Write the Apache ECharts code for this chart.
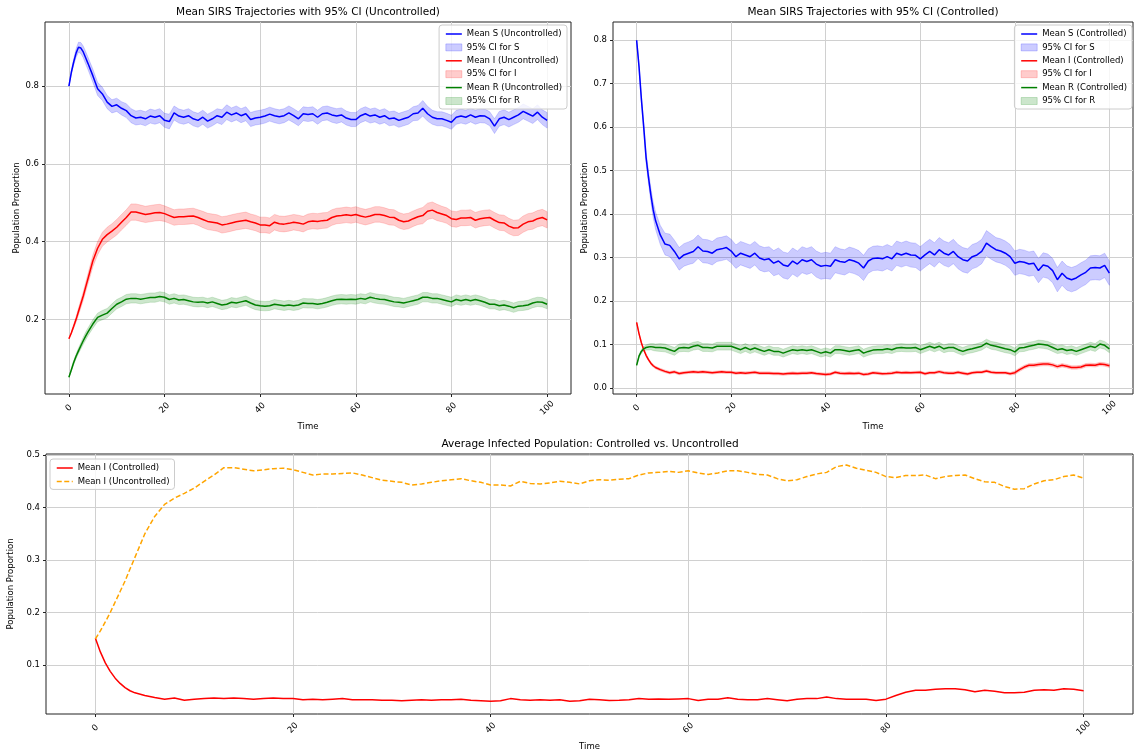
<!DOCTYPE html>
<html>
<head>
<meta charset="utf-8">
<script src="https://cdn.jsdelivr.net/npm/echarts@6/dist/echarts.min.js"></script>
<style>
html,body{margin:0;padding:0;background:#fff}
#chart{width:1134px;height:755px}
</style>
</head>
<body>
<div id="chart"></div>
<script>
// Time grid (finer steps over the fast initial transient)
const time = [0,0.5,1,1.5,2,2.5,3,3.5,4,
  5,6,7,8,9,10,11,12,13,14,15,16,17,18,19,20,21,22,23,24,25,26,27,28,29,30,
  31,32,33,34,35,36,37,38,39,40,41,42,43,44,45,46,47,48,49,50,51,52,53,54,55,
  56,57,58,59,60,61,62,63,64,65,66,67,68,69,70,71,72,73,74,75,76,77,78,79,80,
  81,82,83,84,85,86,87,88,89,90,91,92,93,94,95,96,97,98,99,100];

const xTicks = [0,20,40,60,80,100];
const yTicksUnc = [0.2,0.4,0.6,0.8];
const yTicksCon = [0,0.1,0.2,0.3,0.4,0.5,0.6,0.7,0.8];
const yTicksCmp = [0.1,0.2,0.3,0.4,0.5];

// Uncontrolled runs: mean trajectories and 95% CI half-widths
const meanS_unc = [0.800,0.835,0.862,0.885,0.900,0.898,0.888,0.873,0.858,
  0.827,0.793,0.780,0.759,0.748,0.752,0.743,0.737,0.724,0.718,
  0.720,0.716,0.723,0.720,0.724,0.712,0.709,0.731,0.723,0.720,
  0.724,0.716,0.712,0.720,0.710,0.716,0.724,0.720,0.733,0.726,
  0.731,0.724,0.729,0.714,0.718,0.720,0.723,0.728,0.724,0.721,
  0.724,0.731,0.724,0.716,0.729,0.727,0.729,0.720,0.729,0.731,
  0.726,0.723,0.726,0.718,0.714,0.714,0.724,0.729,0.723,0.726,
  0.720,0.724,0.716,0.718,0.712,0.716,0.720,0.729,0.731,0.743,
  0.729,0.720,0.716,0.716,0.712,0.707,0.720,0.723,0.720,0.726,
  0.720,0.724,0.723,0.716,0.697,0.716,0.720,0.714,0.720,0.726,
  0.735,0.729,0.723,0.733,0.720,0.712];
const halfS_unc = [0,0.005,0.008,0.011,0.013,0.014,0.015,0.016,0.016,
  0.017,0.017,0.017,0.017,0.017,0.017,0.017,0.018,0.018,0.018,
  0.018,0.018,0.018,0.018,0.018,0.018,0.019,0.018,0.018,0.018,
  0.018,0.018,0.018,0.018,0.018,0.018,0.018,0.019,0.019,0.018,
  0.018,0.018,0.018,0.018,0.018,0.018,0.018,0.018,0.018,0.018,
  0.018,0.018,0.018,0.018,0.018,0.018,0.018,0.018,0.018,0.018,
  0.019,0.019,0.018,0.018,0.018,0.018,0.018,0.018,0.018,0.018,
  0.018,0.018,0.018,0.018,0.018,0.018,0.018,0.018,0.019,0.020,
  0.019,0.018,0.018,0.018,0.018,0.018,0.018,0.018,0.018,0.018,
  0.018,0.018,0.018,0.018,0.019,0.019,0.019,0.019,0.019,0.019,
  0.019,0.019,0.019,0.019,0.019,0.020];

const meanI_unc = [0.150,0.165,0.182,0.200,0.220,0.240,0.260,0.283,0.305,
  0.350,0.383,0.406,0.418,0.427,0.437,0.450,0.462,0.476,0.476,
  0.473,0.470,0.472,0.474,0.475,0.472,0.467,0.462,0.464,0.464,
  0.465,0.466,0.462,0.457,0.452,0.450,0.448,0.443,0.445,0.448,
  0.451,0.453,0.455,0.451,0.448,0.443,0.443,0.441,0.450,0.446,
  0.445,0.447,0.450,0.448,0.445,0.451,0.453,0.452,0.454,0.455,
  0.462,0.466,0.467,0.469,0.467,0.470,0.466,0.463,0.466,0.470,
  0.470,0.467,0.463,0.462,0.455,0.451,0.453,0.459,0.464,0.467,
  0.478,0.481,0.475,0.471,0.467,0.459,0.457,0.461,0.461,0.462,
  0.455,0.459,0.461,0.462,0.455,0.449,0.448,0.440,0.435,0.436,
  0.445,0.451,0.453,0.459,0.462,0.456];
const halfI_unc = [0,0.003,0.005,0.007,0.009,0.010,0.011,0.012,0.013,
  0.015,0.017,0.018,0.019,0.019,0.020,0.020,0.020,0.021,0.021,
  0.021,0.021,0.021,0.021,0.021,0.020,0.020,0.020,0.020,0.020,
  0.020,0.020,0.020,0.021,0.021,0.021,0.021,0.021,0.021,0.021,
  0.021,0.021,0.021,0.020,0.020,0.020,0.020,0.020,0.020,0.020,
  0.020,0.020,0.020,0.020,0.020,0.020,0.020,0.020,0.020,0.020,
  0.020,0.020,0.020,0.020,0.020,0.020,0.020,0.020,0.020,0.020,
  0.020,0.020,0.020,0.020,0.020,0.020,0.020,0.020,0.020,0.021,
  0.021,0.021,0.021,0.020,0.020,0.020,0.020,0.020,0.020,0.020,
  0.020,0.020,0.020,0.020,0.020,0.020,0.020,0.020,0.020,0.020,
  0.021,0.021,0.021,0.021,0.021,0.021];

const meanR_unc = [0.051,0.070,0.089,0.105,0.119,0.132,0.145,0.157,0.168,
  0.188,0.205,0.211,0.216,0.228,0.239,0.245,0.252,0.254,0.254,
  0.252,0.254,0.256,0.256,0.259,0.257,0.251,0.254,0.250,0.251,
  0.248,0.245,0.244,0.245,0.242,0.245,0.241,0.237,0.239,0.244,
  0.242,0.245,0.248,0.242,0.237,0.235,0.234,0.235,0.239,0.237,
  0.235,0.237,0.235,0.237,0.242,0.241,0.241,0.239,0.241,0.244,
  0.248,0.251,0.252,0.251,0.252,0.251,0.254,0.252,0.257,0.254,
  0.252,0.251,0.248,0.245,0.244,0.242,0.245,0.248,0.251,0.257,
  0.257,0.254,0.254,0.251,0.248,0.245,0.251,0.248,0.251,0.248,
  0.251,0.248,0.244,0.239,0.239,0.235,0.237,0.234,0.230,0.234,
  0.235,0.237,0.242,0.245,0.244,0.239];
const halfR_unc = [0,0.003,0.005,0.006,0.007,0.008,0.009,0.010,0.010,
  0.011,0.011,0.012,0.012,0.012,0.012,0.012,0.012,0.012,0.012,
  0.012,0.012,0.012,0.012,0.012,0.012,0.012,0.012,0.012,0.012,
  0.012,0.012,0.012,0.012,0.012,0.012,0.012,0.012,0.012,0.012,
  0.012,0.012,0.012,0.012,0.012,0.012,0.012,0.012,0.012,0.012,
  0.012,0.012,0.012,0.012,0.012,0.012,0.012,0.012,0.012,0.012,
  0.012,0.012,0.012,0.012,0.012,0.012,0.012,0.012,0.012,0.012,
  0.012,0.012,0.012,0.012,0.012,0.012,0.012,0.012,0.012,0.012,
  0.012,0.012,0.012,0.012,0.012,0.012,0.012,0.012,0.012,0.012,
  0.012,0.012,0.012,0.012,0.012,0.012,0.012,0.012,0.012,0.012,
  0.012,0.012,0.012,0.012,0.012,0.012];

// Controlled runs
const meanS_con = [0.800,0.740,0.665,0.600,0.530,0.485,0.445,0.410,0.385,
  0.352,0.331,0.328,0.314,0.297,0.306,0.310,0.314,0.325,0.315,
  0.314,0.310,0.318,0.320,0.323,0.315,0.302,0.310,0.306,0.302,
  0.310,0.299,0.295,0.297,0.287,0.292,0.283,0.280,0.292,0.285,
  0.295,0.291,0.295,0.285,0.280,0.282,0.280,0.295,0.291,0.289,
  0.295,0.292,0.287,0.276,0.292,0.298,0.299,0.297,0.302,0.297,
  0.310,0.306,0.310,0.306,0.305,0.297,0.306,0.314,0.306,0.318,
  0.310,0.306,0.314,0.302,0.295,0.292,0.302,0.306,0.314,0.333,
  0.325,0.318,0.315,0.310,0.302,0.287,0.291,0.289,0.285,0.287,
  0.270,0.283,0.280,0.270,0.249,0.264,0.253,0.249,0.253,0.260,
  0.266,0.276,0.277,0.276,0.282,0.264];
const halfS_con = [0,0.004,0.007,0.010,0.012,0.014,0.016,0.018,0.020,
  0.022,0.025,0.026,0.026,0.026,0.026,0.026,0.027,0.027,0.027,
  0.027,0.027,0.027,0.027,0.027,0.027,0.027,0.027,0.027,0.027,
  0.027,0.028,0.028,0.028,0.029,0.030,0.030,0.030,0.030,0.030,
  0.030,0.030,0.030,0.030,0.030,0.030,0.030,0.030,0.029,0.029,
  0.029,0.029,0.029,0.029,0.028,0.028,0.028,0.028,0.028,0.028,
  0.028,0.028,0.028,0.028,0.028,0.028,0.028,0.028,0.028,0.028,
  0.028,0.028,0.028,0.028,0.028,0.028,0.028,0.028,0.028,0.029,
  0.029,0.028,0.028,0.028,0.028,0.028,0.028,0.028,0.028,0.028,
  0.028,0.028,0.028,0.028,0.028,0.028,0.028,0.028,0.028,0.028,
  0.028,0.028,0.028,0.028,0.028,0.028];

const meanI_con = [0.151,0.125,0.104,0.088,0.075,0.065,0.057,0.051,0.047,
  0.042,0.038,0.035,0.037,0.033,0.035,0.036,0.037,0.036,0.037,
  0.036,0.035,0.036,0.037,0.036,0.036,0.034,0.035,0.034,0.035,
  0.036,0.034,0.034,0.034,0.033,0.033,0.032,0.033,0.034,0.033,
  0.034,0.034,0.035,0.033,0.032,0.031,0.032,0.036,0.034,0.033,
  0.034,0.033,0.034,0.031,0.032,0.035,0.034,0.0325,0.033,0.034,
  0.036,0.035,0.0355,0.035,0.0355,0.036,0.0325,0.035,0.035,0.0375,
  0.035,0.034,0.034,0.036,0.034,0.032,0.035,0.036,0.036,0.039,
  0.036,0.035,0.035,0.035,0.0325,0.035,0.042,0.048,0.052,0.052,
  0.054,0.055,0.055,0.053,0.049,0.052,0.050,0.047,0.047,0.048,
  0.052,0.053,0.052,0.055,0.054,0.051];
const halfI_con = [0,0.001,0.002,0.002,0.003,0.003,0.003,0.003,0.003,
  0.003,0.003,0.003,0.003,0.003,0.003,0.003,0.003,0.003,0.003,
  0.003,0.003,0.003,0.003,0.003,0.003,0.003,0.003,0.003,0.003,
  0.003,0.003,0.003,0.003,0.003,0.003,0.003,0.003,0.003,0.003,
  0.003,0.003,0.003,0.003,0.003,0.003,0.003,0.003,0.003,0.003,
  0.003,0.003,0.003,0.003,0.003,0.003,0.003,0.003,0.003,0.003,
  0.003,0.003,0.003,0.003,0.003,0.003,0.003,0.003,0.003,0.003,
  0.003,0.003,0.003,0.003,0.003,0.003,0.003,0.003,0.003,0.003,
  0.003,0.003,0.003,0.003,0.003,0.004,0.004,0.004,0.004,0.004,
  0.004,0.004,0.004,0.004,0.004,0.004,0.004,0.004,0.004,0.004,
  0.004,0.004,0.004,0.004,0.004,0.004];

const meanR_con = [0.052,0.073,0.084,0.090,0.093,0.094,0.095,0.094,0.093,
  0.093,0.092,0.088,0.084,0.092,0.093,0.092,0.096,0.098,0.093,
  0.093,0.092,0.096,0.096,0.096,0.096,0.092,0.088,0.093,0.088,
  0.092,0.088,0.084,0.088,0.084,0.084,0.080,0.084,0.088,0.086,
  0.088,0.086,0.088,0.084,0.080,0.083,0.080,0.088,0.088,0.086,
  0.084,0.086,0.088,0.080,0.084,0.087,0.088,0.088,0.090,0.088,
  0.092,0.093,0.092,0.092,0.093,0.088,0.092,0.096,0.092,0.096,
  0.090,0.093,0.093,0.088,0.084,0.088,0.090,0.093,0.096,0.103,
  0.098,0.096,0.093,0.090,0.088,0.083,0.092,0.093,0.096,0.098,
  0.101,0.100,0.098,0.093,0.088,0.090,0.086,0.088,0.084,0.088,
  0.092,0.096,0.093,0.101,0.098,0.090];
const halfR_con = [0,0.002,0.004,0.005,0.006,0.007,0.007,0.008,0.008,
  0.009,0.009,0.009,0.009,0.009,0.009,0.009,0.009,0.009,0.009,
  0.009,0.009,0.009,0.009,0.009,0.009,0.009,0.009,0.009,0.009,
  0.009,0.009,0.009,0.009,0.009,0.009,0.009,0.009,0.009,0.009,
  0.009,0.009,0.009,0.009,0.009,0.009,0.009,0.009,0.009,0.009,
  0.009,0.009,0.009,0.009,0.009,0.009,0.009,0.009,0.009,0.009,
  0.009,0.009,0.009,0.009,0.009,0.009,0.009,0.009,0.009,0.009,
  0.009,0.009,0.009,0.009,0.009,0.009,0.009,0.009,0.009,0.009,
  0.009,0.009,0.009,0.009,0.009,0.009,0.009,0.009,0.009,0.009,
  0.009,0.009,0.009,0.009,0.009,0.009,0.009,0.009,0.009,0.009,
  0.009,0.009,0.009,0.009,0.009,0.009];

const FONT = 'DejaVu Sans';
const FS = 8.5;
const BLUE = '#0000ff', RED = '#ff0000', GREEN = '#008000', ORANGE = '#ffa500';
const fill = {
  [BLUE]: 'rgba(0,0,255,0.2)',
  [RED]: 'rgba(255,0,0,0.2)',
  [GREEN]: 'rgba(0,128,0,0.2)'
};

// series names carry a panel prefix; legends show the part after '|'
const label = name => name.split('|')[1];

function xAxis(gi) {
  return {
    type: 'value', gridIndex: gi, min: -5, max: 105,
    name: 'Time', nameLocation: 'middle', nameGap: 28,
    nameTextStyle: { fontSize: FS, color: '#000', fontFamily: FONT },
    axisLine: { show: false, onZero: false },
    axisTick: { show: true, length: 3, customValues: xTicks, lineStyle: { color: '#222', width: 1 } },
    axisLabel: {
      customValues: xTicks, rotate: 45, align: 'center', verticalAlign: 'middle',
      margin: 14, fontSize: FS, color: '#000', fontFamily: FONT
    },
    splitLine: { show: true, lineStyle: { color: '#d0d0d0', width: 1 } }
  };
}

function yAxis(gi, min, max, ticks) {
  return {
    type: 'value', gridIndex: gi, min: min, max: max,
    name: 'Population Proportion', nameLocation: 'middle', nameGap: 24,
    nameTextStyle: { fontSize: FS, color: '#000', fontFamily: FONT },
    axisLine: { show: false, onZero: false },
    axisTick: { show: true, length: 3, customValues: ticks, lineStyle: { color: '#222', width: 1 } },
    axisLabel: {
      customValues: ticks, formatter: v => v.toFixed(1),
      margin: 6, fontSize: FS, color: '#000', fontFamily: FONT
    },
    splitLine: { show: true, lineStyle: { color: '#d0d0d0', width: 1 } }
  };
}

function meanLine(name, gi, mean, color, dash) {
  return {
    type: 'line', name: name, xAxisIndex: gi, yAxisIndex: gi,
    data: time.map((t, i) => [t, mean[i]]),
    showSymbol: false, symbol: 'none', silent: true,
    lineStyle: { color: color, width: 1.5, type: dash || 'solid' },
    itemStyle: { color: color },
    emphasis: { disabled: true }
  };
}

function ciBand(name, gi, mean, half, color) {
  const lo = mean.map((m, i) => m - half[i]);
  const hi = mean.map((m, i) => m + half[i]);
  return {
    type: 'custom', name: name, xAxisIndex: gi, yAxisIndex: gi,
    dimensions: ['t', 'lo', 'hi'],
    data: time.map((t, i) => [t, lo[i], hi[i]]),
    encode: { x: 0, y: [1, 2] },
    itemStyle: { color: fill[color] },
    silent: true,
    renderItem: function (params, api) {
      if (params.dataIndex !== 0) return null;
      const pts = [];
      for (let i = 0; i < time.length; i++) pts.push(api.coord([time[i], hi[i]]));
      for (let i = time.length - 1; i >= 0; i--) pts.push(api.coord([time[i], lo[i]]));
      return {
        type: 'polygon',
        shape: { points: pts },
        style: { fill: fill[color], stroke: fill[color], lineWidth: 0.8 }
      };
    }
  };
}

// legend handle for a mean line: the line only, no marker
function lineItem(name, color, dash) {
  return {
    name: name,
    lineStyle: { color: color, width: 1.5, type: dash || 'solid' },
    itemStyle: { color: 'rgba(0,0,0,0)', borderColor: 'rgba(0,0,0,0)', borderWidth: 0, opacity: 0 }
  };
}
function patchItem(name, color) {
  return {
    name: name, icon: 'rect',
    itemStyle: { color: fill[color], borderColor: fill[color], borderWidth: 1 }
  };
}

function legend(pos, items) {
  return Object.assign({
    orient: 'vertical',
    itemWidth: 16, itemHeight: 7, itemGap: 3.4, itemTextGap: 7,
    padding: [4, 5, 3, 6],
    backgroundColor: 'rgba(255,255,255,0.8)',
    borderColor: '#cccccc', borderWidth: 1, borderRadius: 3,
    textStyle: { fontSize: FS, color: '#000', fontFamily: FONT, lineHeight: 10 },
    formatter: label,
    selectedMode: false,
    data: items
  }, pos);
}

function title(text, cx, top) {
  return {
    text: text, left: cx, top: top, textAlign: 'center', padding: 0,
    textStyle: { fontSize: 10.5, fontWeight: 'normal', color: '#000', fontFamily: FONT }
  };
}

const gridBox = { show: true, borderColor: '#222', borderWidth: 1, backgroundColor: 'transparent', outerBoundsMode: 'none', containLabel: false };

const option = {
  animation: false,
  backgroundColor: '#fff',
  textStyle: { fontFamily: FONT },
  title: [
    title('Mean SIRS Trajectories with 95% CI (Uncontrolled)', 308, 7),
    title('Mean SIRS Trajectories with 95% CI (Controlled)', 873, 7),
    title('Average Infected Population: Controlled vs. Uncontrolled', 590, 439)
  ],
  grid: [
    Object.assign({ left: 45, top: 22, width: 526, height: 372 }, gridBox),
    Object.assign({ left: 613, top: 22, width: 520, height: 372 }, gridBox),
    Object.assign({ left: 46, top: 454, width: 1087, height: 260 }, gridBox)
  ],
  xAxis: [xAxis(0), xAxis(1), xAxis(2)],
  yAxis: [
    yAxis(0, 0.008, 0.965, yTicksUnc),
    yAxis(1, -0.014, 0.842, yTicksCon),
    yAxis(2, 0.0067, 0.502, yTicksCmp)
  ],
  legend: [
    legend({ right: 567, top: 25 }, [
      lineItem('unc|Mean S (Uncontrolled)', BLUE), patchItem('unc|95% CI for S', BLUE),
      lineItem('unc|Mean I (Uncontrolled)', RED), patchItem('unc|95% CI for I', RED),
      lineItem('unc|Mean R (Uncontrolled)', GREEN), patchItem('unc|95% CI for R', GREEN)
    ]),
    legend({ right: 2, top: 25 }, [
      lineItem('con|Mean S (Controlled)', BLUE), patchItem('con|95% CI for S', BLUE),
      lineItem('con|Mean I (Controlled)', RED), patchItem('con|95% CI for I', RED),
      lineItem('con|Mean R (Controlled)', GREEN), patchItem('con|95% CI for R', GREEN)
    ]),
    legend({ left: 50, top: 459 }, [
      lineItem('cmp|Mean I (Controlled)', RED),
      lineItem('cmp|Mean I (Uncontrolled)', ORANGE, [5, 2.5])
    ])
  ],
  series: [
    meanLine('unc|Mean S (Uncontrolled)', 0, meanS_unc, BLUE),
    ciBand('unc|95% CI for S', 0, meanS_unc, halfS_unc, BLUE),
    meanLine('unc|Mean I (Uncontrolled)', 0, meanI_unc, RED),
    ciBand('unc|95% CI for I', 0, meanI_unc, halfI_unc, RED),
    meanLine('unc|Mean R (Uncontrolled)', 0, meanR_unc, GREEN),
    ciBand('unc|95% CI for R', 0, meanR_unc, halfR_unc, GREEN),

    meanLine('con|Mean S (Controlled)', 1, meanS_con, BLUE),
    ciBand('con|95% CI for S', 1, meanS_con, halfS_con, BLUE),
    meanLine('con|Mean I (Controlled)', 1, meanI_con, RED),
    ciBand('con|95% CI for I', 1, meanI_con, halfI_con, RED),
    meanLine('con|Mean R (Controlled)', 1, meanR_con, GREEN),
    ciBand('con|95% CI for R', 1, meanR_con, halfR_con, GREEN),

    meanLine('cmp|Mean I (Controlled)', 2, meanI_con, RED),
    meanLine('cmp|Mean I (Uncontrolled)', 2, meanI_unc, ORANGE, [5, 2.5])
  ]
};

const chart = echarts.init(document.getElementById('chart'), null, { renderer: 'canvas' });
chart.setOption(option);
</script>
</body>
</html>
